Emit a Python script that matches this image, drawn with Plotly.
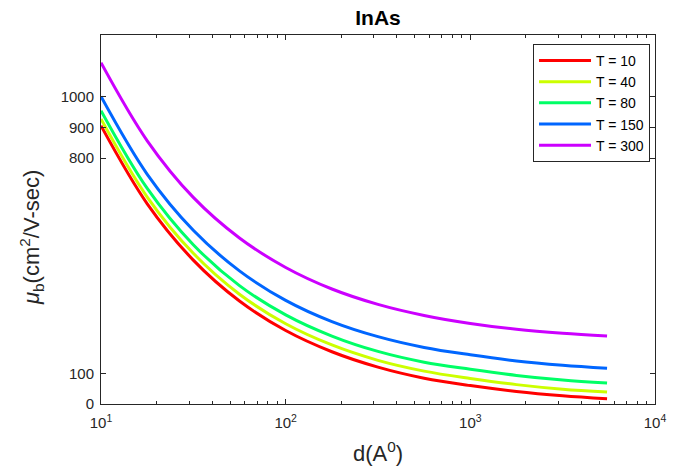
import plotly.graph_objects as go

# Data (d in Angstrom, mobility in cm^2/V-sec)
d_vals = [10, 17.8, 31.6, 56.2, 100, 178, 316, 562, 1000, 1778, 3162, 5500]
mu_T10 = [905, 651, 468, 335, 239, 170, 120, 84, 60, 41, 27, 17]
mu_T40 = [927, 673, 490, 357, 261, 192, 142, 107, 83, 63, 48, 39]
mu_T80 = [954, 701, 518, 385, 290, 221, 171, 136, 113, 93, 78, 68]
mu_T150 = [1000, 747, 565, 433, 337, 268, 219, 184, 160, 140, 126, 116]
mu_T300 = [1110, 856, 672, 540, 444, 374, 324, 288, 262, 243, 230, 221]

series_names = ["T = 10", "T = 40", "T = 80", "T = 150", "T = 300"]
series_vals = [mu_T10, mu_T40, mu_T80, mu_T150, mu_T300]
colors = ["rgb(255,0,0)", "rgb(204,255,0)", "rgb(0,255,102)", "rgb(0,102,255)", "rgb(204,0,255)"]

x_tickvals = [10, 100, 1000, 10000]
x_ticktext = ["10<sup>1</sup>", "10<sup>2</sup>", "10<sup>3</sup>", "10<sup>4</sup>"]
x_minor = [m * 10 ** e for e in range(1, 4) for m in range(2, 10)]
y_tickvals = [0, 100, 800, 900, 1000]

axcol = "#262626"
font_family = "Liberation Sans, Arial, Helvetica, sans-serif"

L, R, T, B = 101, 25, 35, 64
W, H = 680, 468
pw, ph = W - L - R, H - T - B

fig = go.Figure()
for name, vals, c in zip(series_names, series_vals, colors):
    fig.add_trace(go.Scatter(x=d_vals, y=vals, mode="lines", name=name,
                             line=dict(color=c, width=3, shape="spline", smoothing=1.0)))

fig.update_layout(
    width=W, height=H,
    margin=dict(l=L, r=R, t=T, b=B, autoexpand=False),
    paper_bgcolor="white", plot_bgcolor="white",
    font=dict(family=font_family, color=axcol, size=14),
    title=dict(text="<b>InAs</b>", x=(L + L + pw) / 2 / W, xanchor="center",
               y=1 - 18 / H, yanchor="middle",
               font=dict(size=21, color="black", family=font_family)),
    legend=dict(x=0.991, y=0.976, xanchor="right", yanchor="top",
                bgcolor="white", bordercolor=axcol, borderwidth=1,
                font=dict(size=14, color="black", family=font_family),
                itemwidth=52, tracegroupgap=0),
    showlegend=True,
    annotations=[
        dict(text="d(A<sup>0</sup>)", xref="paper", yref="paper",
             x=0.5, y=-(452 - (T + ph)) / ph, xanchor="center", yanchor="middle",
             showarrow=False, font=dict(size=22, color=axcol, family=font_family)),
        dict(text="<i>μ</i><sub>b</sub>(cm<sup>2</sup>/V-sec)", xref="paper", yref="paper",
             x=-(L - 31) / pw, y=((T + ph) - 238) / ph, xanchor="center", yanchor="middle",
             textangle=-90, showarrow=False,
             font=dict(size=22, color=axcol, family=font_family)),
    ],
)

fig.update_xaxes(
    type="log", range=[1, 4],
    tickmode="array", tickvals=x_tickvals, ticktext=x_ticktext,
    ticks="inside", ticklen=5, tickcolor=axcol, tickwidth=1,
    minor=dict(tickmode="array", tickvals=x_minor, ticks="inside", ticklen=3, tickcolor=axcol),
    showline=True, linecolor=axcol, linewidth=1, mirror="ticks",
    showgrid=False, zeroline=False, automargin=False,
    tickfont=dict(size=15, color=axcol), ticklabelstandoff=5,
)
fig.update_yaxes(
    range=[0, 1200],
    tickmode="array", tickvals=y_tickvals,
    ticks="inside", ticklen=5, tickcolor=axcol, tickwidth=1,
    showline=True, linecolor=axcol, linewidth=1, mirror="ticks",
    showgrid=False, zeroline=False, automargin=False,
    tickfont=dict(size=15, color=axcol), ticklabelstandoff=3,
)

fig.write_html("out.html", config={"displayModeBar": False},
               post_script="document.body.style.margin='0px';")
